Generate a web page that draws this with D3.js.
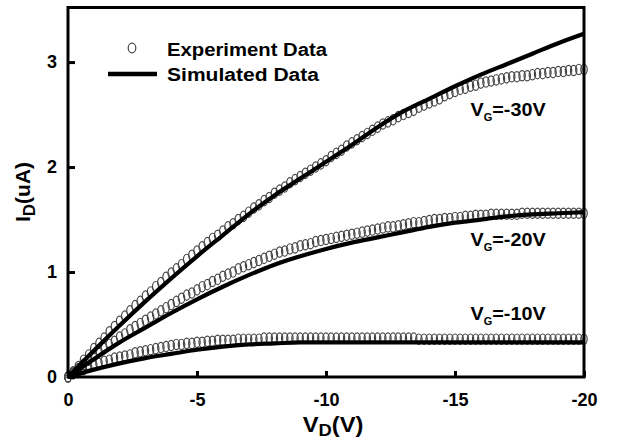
<!DOCTYPE html>
<html>
<head>
<meta charset="utf-8">
<script src="https://cdn.jsdelivr.net/npm/d3@7/dist/d3.min.js"></script>
<style>
  html, body { margin: 0; padding: 0; background: #fff; }
  svg { display: block; }
  text { font-family: "Liberation Sans", Arial, sans-serif; font-weight: bold; fill: #000; }
</style>
</head>
<body>
<svg id="chart" width="617" height="440"></svg>
<script>
// Drain voltage grid for the measured curves (0 to -20 V, 0.2 V steps)
const vdMeasured = d3.range(0, 101).map(i => -i * 0.2);
// Drain voltage grid for the simulated curves (1 V steps)
const vdSim = d3.range(0, 21).map(i => -i);

// Measured drain current (uA)
const expVg30 = [
  0, 0.05, 0.10, 0.16, 0.21, 0.27,
  0.32, 0.37, 0.43, 0.48, 0.53,
  0.58, 0.63, 0.68, 0.72, 0.77,
  0.81, 0.86, 0.90, 0.95, 0.99,
  1.03, 1.07, 1.12, 1.16, 1.20,
  1.24, 1.28, 1.32, 1.35, 1.39,
  1.43, 1.46, 1.50, 1.53, 1.57,
  1.61, 1.64, 1.68, 1.71, 1.75,
  1.78, 1.81, 1.85, 1.88, 1.91,
  1.94, 1.97, 2.00, 2.03, 2.06,
  2.10, 2.13, 2.16, 2.20, 2.23,
  2.26, 2.29, 2.32, 2.35, 2.38,
  2.41, 2.43, 2.45, 2.48, 2.50,
  2.52, 2.54, 2.57, 2.59, 2.61,
  2.63, 2.65, 2.68, 2.70, 2.72,
  2.74, 2.75, 2.77, 2.78, 2.80,
  2.81, 2.82, 2.83, 2.84, 2.85,
  2.86, 2.86, 2.87, 2.87, 2.88,
  2.89, 2.89, 2.90, 2.90, 2.91,
  2.91, 2.92, 2.92, 2.93, 2.93
];
const expVg20 = [
  0, 0.04, 0.08, 0.12, 0.16, 0.20,
  0.24, 0.27, 0.31, 0.34, 0.38,
  0.41, 0.45, 0.48, 0.51, 0.54,
  0.57, 0.60, 0.63, 0.66, 0.69,
  0.72, 0.75, 0.78, 0.80, 0.83,
  0.86, 0.88, 0.91, 0.93, 0.96,
  0.98, 1.00, 1.03, 1.05, 1.07,
  1.09, 1.11, 1.13, 1.15, 1.17,
  1.19, 1.20, 1.22, 1.23, 1.25,
  1.26, 1.27, 1.29, 1.30, 1.31,
  1.32, 1.33, 1.34, 1.35, 1.36,
  1.37, 1.38, 1.39, 1.40, 1.41,
  1.42, 1.43, 1.43, 1.44, 1.45,
  1.46, 1.47, 1.47, 1.48, 1.49,
  1.50, 1.50, 1.51, 1.51, 1.52,
  1.52, 1.53, 1.53, 1.54, 1.54,
  1.54, 1.55, 1.55, 1.55, 1.55,
  1.55, 1.55, 1.56, 1.56, 1.56,
  1.56, 1.56, 1.56, 1.56, 1.56,
  1.56, 1.56, 1.56, 1.56, 1.56
];
const expVg10 = [
  0, 0.03, 0.05, 0.07, 0.09, 0.11,
  0.13, 0.15, 0.16, 0.18, 0.19,
  0.20, 0.21, 0.23, 0.24, 0.25,
  0.26, 0.27, 0.28, 0.29, 0.30,
  0.31, 0.31, 0.32, 0.32, 0.33,
  0.33, 0.34, 0.34, 0.35, 0.35,
  0.35, 0.35, 0.36, 0.36, 0.36,
  0.36, 0.36, 0.37, 0.37, 0.37,
  0.37, 0.37, 0.37, 0.37, 0.37,
  0.37, 0.37, 0.37, 0.37, 0.37,
  0.37, 0.37, 0.37, 0.37, 0.37,
  0.37, 0.37, 0.37, 0.37, 0.37,
  0.37, 0.37, 0.37, 0.37, 0.37,
  0.37, 0.37, 0.36, 0.36, 0.36,
  0.36, 0.36, 0.36, 0.36, 0.36,
  0.36, 0.36, 0.36, 0.36, 0.36,
  0.36, 0.36, 0.36, 0.36, 0.36,
  0.36, 0.36, 0.36, 0.36, 0.36,
  0.36, 0.36, 0.36, 0.36, 0.36,
  0.36, 0.36, 0.36, 0.36, 0.36
];

// Simulated drain current (uA)
const simVg30 = [0, 0.25, 0.49, 0.72, 0.94, 1.15, 1.35, 1.55, 1.73, 1.89, 2.05,
                 2.21, 2.38, 2.53, 2.65, 2.77, 2.88, 2.98, 3.08, 3.18, 3.27];
const simVg20 = [0, 0.17, 0.33, 0.47, 0.61, 0.74, 0.86, 0.97, 1.07, 1.15, 1.22,
                 1.28, 1.33, 1.38, 1.43, 1.47, 1.50, 1.53, 1.55, 1.56, 1.57];
const simVg10 = [0, 0.07, 0.13, 0.18, 0.22, 0.26, 0.29, 0.31, 0.32, 0.33, 0.33,
                 0.33, 0.33, 0.33, 0.33, 0.33, 0.33, 0.33, 0.33, 0.33, 0.33];

const xTicks = [0, -5, -10, -15, -20];
const yTicks = [0, 1, 2, 3];
const gateLabels = [
  { vg: "-30V", vd: -15.6, i: 2.49 },
  { vg: "-20V", vd: -15.6, i: 1.25 },
  { vg: "-10V", vd: -15.6, i: 0.54 }
];

const svg = d3.select("#chart");
const plotLeft = 68, plotRight = 584, plotTop = 7.5, plotBottom = 377;

const x = d3.scaleLinear().domain([0, -20]).range([plotLeft, plotRight]);
const y = d3.scaleLinear().domain([0, 3.52]).range([plotBottom, plotTop]);

// measured points: open markers
const series = [expVg30, expVg20, expVg10];
const gPts = svg.append("g");
series.forEach(vals => {
  gPts.selectAll(null)
    .data(vals.map((v, k) => [vdMeasured[k], v]))
    .enter().append("ellipse")
    .attr("cx", d => x(d[0]))
    .attr("cy", d => y(d[1]))
    .attr("rx", 3.2)
    .attr("ry", 5.2)
    .attr("fill", "none")
    .attr("stroke", "#444")
    .attr("stroke-width", 1.2);
});

// simulated curves
const line = d3.line()
  .x(d => x(d[0]))
  .y(d => y(d[1]))
  .curve(d3.curveMonotoneX);
[simVg30, simVg20, simVg10].forEach(vals => {
  svg.append("path")
    .datum(vals.map((v, k) => [vdSim[k], v]))
    .attr("d", line)
    .attr("fill", "none")
    .attr("stroke", "#000")
    .attr("stroke-width", 4.2)
    .attr("stroke-linejoin", "round");
});

// frame
svg.append("rect")
  .attr("x", plotLeft).attr("y", plotTop)
  .attr("width", plotRight - plotLeft).attr("height", plotBottom - plotTop)
  .attr("fill", "none").attr("stroke", "#000").attr("stroke-width", 3);

// axes with inward ticks
const fmt = d => String(d);
const xAxis = d3.axisBottom(x).tickValues(xTicks).tickFormat(fmt)
  .tickSizeInner(-6).tickSizeOuter(0).tickPadding(16);
const gx = svg.append("g").attr("transform", `translate(0,${plotBottom})`).call(xAxis);
gx.select(".domain").remove();
gx.selectAll(".tick line").attr("stroke-width", 3);
gx.selectAll(".tick text")
  .style("font-size", "18px").style("font-family", "'Liberation Sans', Arial, sans-serif")
  .style("font-weight", "bold");

const yAxis = d3.axisLeft(y).tickValues(yTicks).tickFormat(fmt)
  .tickSizeInner(-7).tickSizeOuter(0).tickPadding(11);
const gy = svg.append("g").attr("transform", `translate(${plotLeft},0)`).call(yAxis);
gy.select(".domain").remove();
gy.selectAll(".tick line").attr("stroke-width", 3);
gy.selectAll(".tick text")
  .style("font-size", "18px").style("font-family", "'Liberation Sans', Arial, sans-serif")
  .style("font-weight", "bold");

// axis titles
const xt = svg.append("text")
  .attr("transform", "translate(333,432) scale(1.08,1)")
  .attr("text-anchor", "middle").style("font-size", "22px");
xt.append("tspan").text("V");
xt.append("tspan").attr("dy", 4).style("font-size", "17px").text("D");
xt.append("tspan").attr("dy", -4).text("(V)");

const yt = svg.append("text")
  .attr("transform", "translate(30,192) rotate(-90)")
  .attr("text-anchor", "middle").style("font-size", "21px");
yt.append("tspan").text("I");
yt.append("tspan").attr("dy", 5).style("font-size", "17px").text("D");
yt.append("tspan").attr("dy", -5).text("(uA)");

// legend
svg.append("ellipse")
  .attr("cx", 132).attr("cy", 48).attr("rx", 3.8).attr("ry", 4.8)
  .attr("fill", "none").attr("stroke", "#444").attr("stroke-width", 1.2);
svg.append("text").attr("x", 167).attr("y", 56).style("font-size", "17.5px")
  .attr("textLength", 160).attr("lengthAdjust", "spacingAndGlyphs").text("Experiment Data");
svg.append("line")
  .attr("x1", 108).attr("x2", 157).attr("y1", 74).attr("y2", 74)
  .attr("stroke", "#000").attr("stroke-width", 4.5);
svg.append("text").attr("x", 167).attr("y", 81).style("font-size", "17.5px")
  .attr("textLength", 152).attr("lengthAdjust", "spacingAndGlyphs").text("Simulated Data");

// gate voltage labels
gateLabels.forEach(d => {
  const t = svg.append("text")
    .attr("transform", `translate(${x(d.vd)},${y(d.i)}) scale(1.1,1)`)
    .style("font-size", "18px");
  t.append("tspan").text("V");
  t.append("tspan").attr("dy", 5).style("font-size", "10px").text("G");
  t.append("tspan").attr("dy", -5).text("=" + d.vg);
});
</script>
</body>
</html>
